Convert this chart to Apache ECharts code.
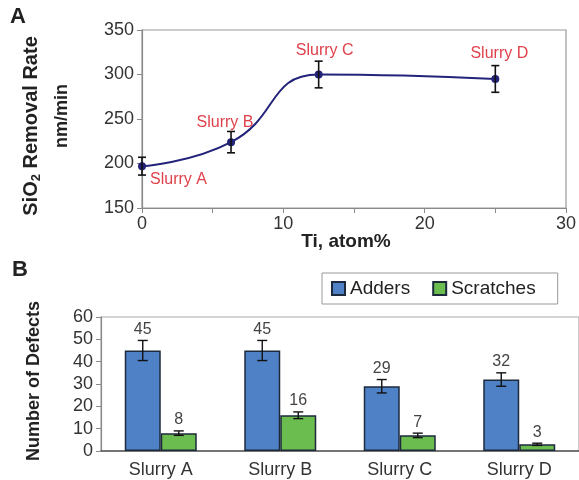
<!DOCTYPE html>
<html><head><meta charset="utf-8">
<script src="https://cdn.jsdelivr.net/npm/echarts@6/dist/echarts.min.js"></script>
<style>html,body{margin:0;padding:0;background:#fff}#c{width:579px;height:480px}</style>
</head><body><div id="c"></div>
<script>
// Panel A data
const tiAtom = [0, 6.3, 12.5, 25];
const removalRate = [197, 224, 300, 295];
const removalErr = [10, 12, 15, 15];
const slurryNamesA = ['Slurry A', 'Slurry B', 'Slurry C', 'Slurry D'];
// Panel B data
const categories = ['Slurry A', 'Slurry B', 'Slurry C', 'Slurry D'];
const adders = [45, 45, 29, 32];
const addersErr = [4.5, 4.5, 3, 3];
const scratches = [8, 16, 7, 3];
const scratchesErr = [1, 1.5, 1, 0.5];

const FONT = 'Liberation Sans, Arial, sans-serif';
const chart = echarts.init(document.getElementById('c'));

const labelPos = [
  {position: 'right', distance: 4, offset: [0, 13]},
  {position: 'top', distance: 8, offset: [-6, 0]},
  {position: 'top', distance: 12, offset: [6, 0]},
  {position: 'top', distance: 13, offset: [4, 0]}
];
const lineData = tiAtom.map((x, i) => ({
  value: [x, removalRate[i]],
  name: slurryNamesA[i],
  label: Object.assign({show: true, formatter: '{b}'}, labelPos[i])
}));
const errA = tiAtom.map((x, i) => [x, removalRate[i] - removalErr[i], removalRate[i] + removalErr[i]]);

function errBarA(params, api) {
  const x = api.value(0);
  const lo = api.coord([x, api.value(1)]);
  const hi = api.coord([x, api.value(2)]);
  const w = 4;
  const st = {stroke: '#111', lineWidth: 1.6};
  return {type: 'group', children: [
    {type: 'line', shape: {x1: lo[0], y1: lo[1], x2: hi[0], y2: hi[1]}, style: st},
    {type: 'line', shape: {x1: lo[0]-w, y1: lo[1], x2: lo[0]+w, y2: lo[1]}, style: st},
    {type: 'line', shape: {x1: hi[0]-w, y1: hi[1], x2: hi[0]+w, y2: hi[1]}, style: st}
  ]};
}
function makeErrBar(offset) {
  return function (params, api) {
    const ci = api.value(0), v = api.value(1), e = api.value(2);
    const top = api.coord([ci, v + e]);
    const bot = api.coord([ci, v - e]);
    const x = top[0] + offset;
    const w = 5;
    const st = {stroke: '#111', lineWidth: 1.4};
    return {type: 'group', children: [
      {type: 'line', shape: {x1: x, y1: bot[1], x2: x, y2: top[1]}, style: st},
      {type: 'line', shape: {x1: x-w, y1: bot[1], x2: x+w, y2: bot[1]}, style: st},
      {type: 'line', shape: {x1: x-w, y1: top[1], x2: x+w, y2: top[1]}, style: st},
      {type: 'text', x: x, y: top[1] - 3, style: {text: String(v), fill: '#444', font: '16px ' + FONT, align: 'center', verticalAlign: 'bottom'}}
    ]};
  };
}

const axisGray = '#8a8a8a';
chart.setOption({
  animation: false,
  textStyle: {fontFamily: FONT},
  grid: [
    {left: 142, top: 30, width: 426, height: 178, show: true, borderColor: '#999', borderWidth: 1.2},
    {left: 101, top: 317, width: 480, height: 134, show: true, borderColor: '#aaa', borderWidth: 1.2}
  ],
  legend: {
    left: 322, top: 273,
    padding: [6, 22, 6, 9],
    borderColor: '#999', borderWidth: 1,
    itemWidth: 13, itemHeight: 13, itemGap: 22,
    icon: 'rect',
    textStyle: {fontSize: 19, color: '#222', fontFamily: FONT},
    data: ['Adders', 'Scratches']
  },
  xAxis: [
    {type: 'value', gridIndex: 0, min: 0, max: 30, interval: 5,
     axisLine: {show: true, lineStyle: {color: axisGray, width: 1.2}},
     axisTick: {show: true, length: 5, lineStyle: {color: axisGray}},
     splitLine: {show: false},
     axisLabel: {fontSize: 18, color: '#333', margin: 7, formatter: v => (v % 10 === 0 ? String(v) : '')}
    },
    {type: 'category', gridIndex: 1, data: categories,
     axisLine: {show: true, lineStyle: {color: '#555', width: 1.5}},
     axisTick: {show: false},
     axisLabel: {fontSize: 18, color: '#333', margin: 10}
    }
  ],
  yAxis: [
    {type: 'value', gridIndex: 0, min: 150, max: 350, interval: 50,
     axisLine: {show: true, lineStyle: {color: axisGray, width: 1.2}},
     axisTick: {show: true, length: 5, lineStyle: {color: axisGray}},
     splitLine: {show: false},
     axisLabel: {fontSize: 18, color: '#333', margin: 8}
    },
    {type: 'value', gridIndex: 1, min: 0, max: 60, interval: 10,
     axisLine: {show: true, lineStyle: {color: axisGray, width: 1.2}},
     axisTick: {show: true, length: 5, lineStyle: {color: axisGray}},
     splitLine: {show: false},
     axisLabel: {fontSize: 18, color: '#333', margin: 8}
    }
  ],
  series: [
    {type: 'line', xAxisIndex: 0, yAxisIndex: 0, data: lineData, smooth: 0.5,
     symbol: 'circle', symbolSize: 8,
     lineStyle: {color: '#23237a', width: 2},
     itemStyle: {color: '#23237a'},
     label: {color: '#e0414b', fontSize: 16, fontFamily: FONT},
     z: 3},
    {type: 'custom', xAxisIndex: 0, yAxisIndex: 0, data: errA, renderItem: errBarA, z: 4},
    {type: 'bar', name: 'Adders', xAxisIndex: 1, yAxisIndex: 1, data: adders,
     barWidth: 36, barGap: '0%',
     itemStyle: {color: '#4f81c7', borderColor: '#1c2a3c', borderWidth: 1.5}},
    {type: 'bar', name: 'Scratches', xAxisIndex: 1, yAxisIndex: 1, data: scratches,
     barWidth: 36, barGap: '0%',
     itemStyle: {color: '#6cbd4f', borderColor: '#1c2a3c', borderWidth: 1.5}},
    {type: 'custom', xAxisIndex: 1, yAxisIndex: 1,
     data: adders.map((v, i) => [i, v, addersErr[i]]), renderItem: makeErrBar(-18), z: 5},
    {type: 'custom', xAxisIndex: 1, yAxisIndex: 1,
     data: scratches.map((v, i) => [i, v, scratchesErr[i]]), renderItem: makeErrBar(18), z: 5}
  ],
  graphic: [
    {type: 'text', left: 10, top: 6, style: {text: 'A', font: 'bold 22px ' + FONT, fill: '#222'}},
    {type: 'text', left: 12, top: 259, style: {text: 'B', font: 'bold 22px ' + FONT, fill: '#222'}},
    {type: 'text', x: 346, y: 242,
     style: {text: 'Ti, atom%', font: 'bold 19px ' + FONT, fill: '#222', align: 'center', verticalAlign: 'middle'}},
    {type: 'text', x: 31, y: 126, rotation: Math.PI / 2,
     style: {text: '{b|SiO}{s|2}{b| Removal Rate}', align: 'center', verticalAlign: 'middle',
       rich: {b: {font: 'bold 20px ' + FONT, fill: '#222'},
              s: {font: 'bold 13px ' + FONT, fill: '#222', verticalAlign: 'bottom', padding: [10, 0, 0, 0]}}}},
    {type: 'text', x: 62, y: 116, rotation: Math.PI / 2,
     style: {text: 'nm/min', font: 'bold 18px ' + FONT, fill: '#222', align: 'center', verticalAlign: 'middle'}},
    {type: 'text', x: 34, y: 381, rotation: Math.PI / 2,
     style: {text: 'Number of Defects', font: 'bold 18px ' + FONT, fill: '#222', align: 'center', verticalAlign: 'middle'}}
  ]
});
</script></body></html>
